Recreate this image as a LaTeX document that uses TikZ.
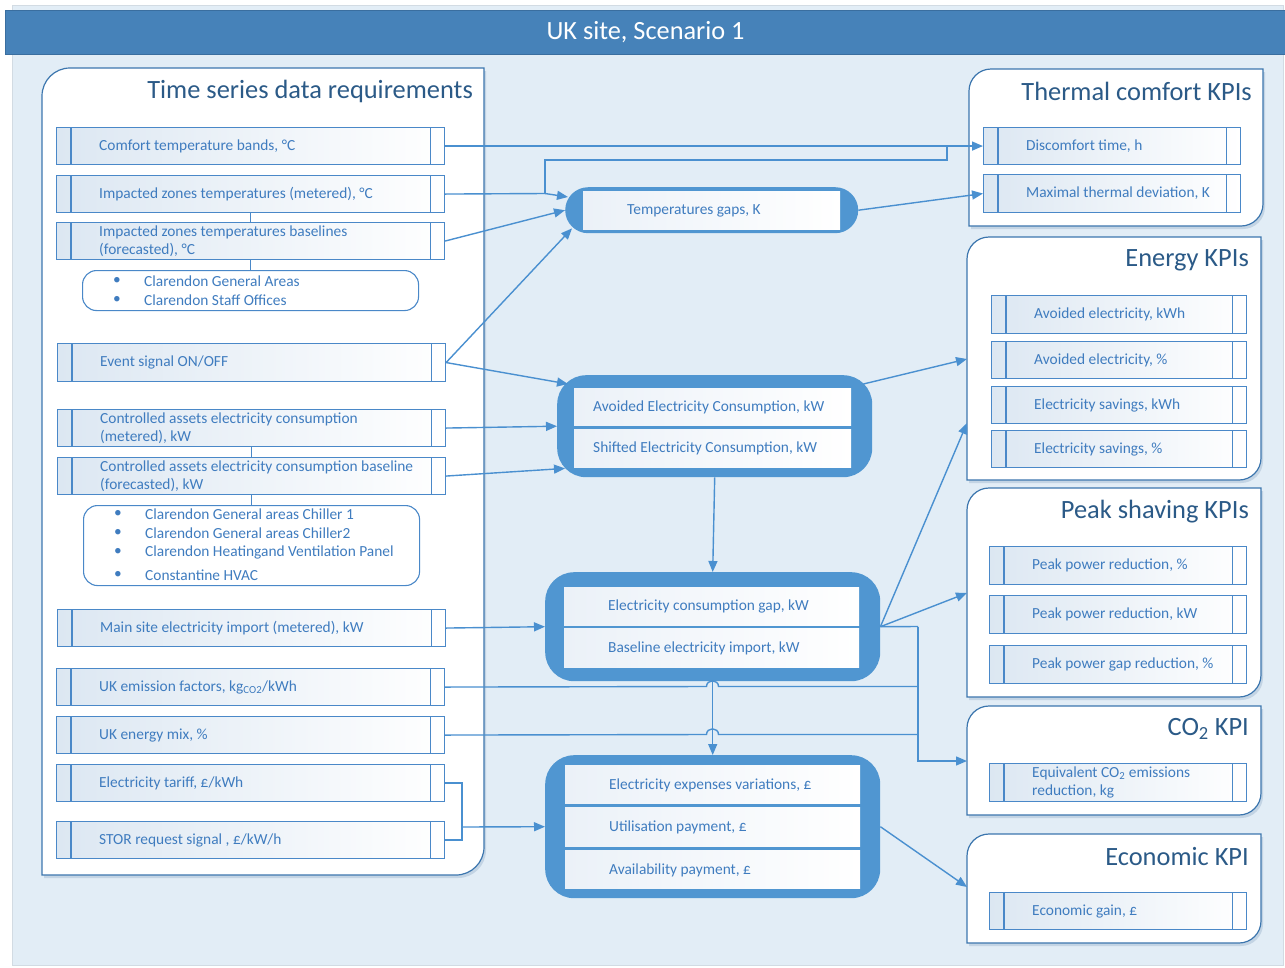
\documentclass[tikz,border=0pt]{standalone}
\usepackage{fontspec}
\setmainfont{Carlito}
\usetikzlibrary{arrows.meta,calc}

\definecolor{hdr}{HTML}{4682B9}
\definecolor{hdrline}{HTML}{3A6E9F}
\definecolor{panel}{HTML}{E2EDF6}
\definecolor{frame}{HTML}{D2DBE3}
\definecolor{boxline}{HTML}{4A88C8}
\definecolor{boxtext}{HTML}{3F7CBF}
\definecolor{ttlc}{HTML}{2B5A87}
\definecolor{thick}{HTML}{5096D1}
\definecolor{wirec}{HTML}{4A90D0}
\definecolor{contline}{HTML}{3C76AE}
\definecolor{shadec}{HTML}{DCE7F2}
\definecolor{innershade}{HTML}{EBF1F8}
\definecolor{shadowc}{HTML}{C3D4E4}

% outline of a group panel: rounded top-left and bottom-right corners
\newcommand\grouppath[5]{(#1,#4) -- (#1,#2+#5) .. controls (#1,#2+0.448*#5) and (#1+0.448*#5,#2) .. (#1+#5,#2) -- (#3,#2) -- (#3,#4-#5) .. controls (#3,#4-0.448*#5) and (#3-0.448*#5,#4) .. (#3-#5,#4) -- cycle}
\newcommand\grouppanel[5]{%
  \fill[shadowc, xshift=2pt, yshift=-3pt] \grouppath{#1}{#2}{#3}{#4}{#5};
  \draw[grp] \grouppath{#1}{#2}{#3}{#4}{#5};
}
% data item: name, x, y, width, height, text
\newcommand\dataitem[6]{%
  \node[dbox, minimum width=#4pt, minimum height=#5pt, anchor=north west] (#1) at (#2,#3) {};
  \draw[dline] ([xshift=15pt]#1.north west) -- ([xshift=15pt]#1.south west)
               ([xshift=-15pt]#1.north east) -- ([xshift=-15pt]#1.south east);
  \node[dtext] (#1t) at ([xshift=43pt]#1.west) {#6};
}
% white row inside a thick box: name, x, y, width, height
\newcommand\rowitem[5]{%
  \node[inr, minimum width=#4pt, minimum height=#5pt, anchor=north west] (#1) at (#2,#3) {};
}

\begin{document}
\begin{tikzpicture}[x=1pt,y=-1pt,
  dbox/.style={draw=boxline, line width=1.1pt, left color=shadec, right color=white, inner sep=0pt, rectangle},
  dline/.style={draw=boxline, line width=1.1pt},
  dtext/.style={text=boxtext, font=\fontsize{15.4}{18.5}\selectfont, inner sep=0pt, align=left, anchor=west},
  inr/.style={left color=innershade, right color=white, inner sep=0pt, rectangle},
  thickbox/.style={fill=thick, rounded corners=29pt, inner sep=0pt, rectangle},
  grp/.style={draw=contline, line width=1.2pt, fill=white},
  ttl/.style={text=ttlc, font=\fontsize{26.4}{30}\selectfont, anchor=east, inner sep=0pt},
  lst/.style={draw=boxline, line width=1.1pt, fill=white, rounded corners=14pt, inner sep=0pt, rectangle},
  wire/.style={draw=wirec, line width=1.4pt},
  arr/.style={wire, -{Triangle[length=11pt,width=9pt]}},
]
\useasboundingbox (0,0) rectangle (1285,967);

% background sheet and header
\draw[frame, fill=panel, line width=1pt] (12,5) rectangle (1283,965);
\node[fill=hdr, draw=hdrline, line width=1pt, minimum width=1280pt, minimum height=44pt,
      anchor=north west, inner sep=0pt, text=white, font=\fontsize{26.3}{30}\selectfont] (hdr) at (5,10) {UK site, Scenario 1};

% ---------------- input group ----------------
\grouppanel{42}{68}{484}{875}{28}
\node[ttl] (inttl) at (473,91.5) {Time series data requirements};

\dataitem{c1}{56}{127}{388}{37}{Comfort temperature bands, °C}
\dataitem{c2}{56}{175}{388}{37}{Impacted zones temperatures (metered), °C}
\dataitem{c3}{56}{222}{388}{37}{Impacted zones temperatures baselines\\(forecasted), °C}
\draw[dline] (c2.south) -- (c3.north);

\node[lst, minimum width=336pt, minimum height=40pt, anchor=north west] (l1) at (82,270) {};
\draw[dline] (c3.south) -- (l1.north);
\foreach \yy/\tx [count=\i] in {281/Clarendon General Areas, 300/Clarendon Staff Offices}{
  \node[dtext, anchor=center] (l1b\i) at (117,\yy) {•};
  \node[dtext] (l1t\i) at (144,\yy) {\tx};
}

\dataitem{c4}{57}{343}{388}{38}{Event signal ON/OFF}
\dataitem{c5}{57}{409}{388}{37}{Controlled assets electricity consumption\\(metered), kW}
\dataitem{c6}{57}{457}{388}{37}{Controlled assets electricity consumption baseline\\(forecasted), kW}
\draw[dline] (c5.south) -- (c6.north);

\node[lst, minimum width=336pt, minimum height=80pt, anchor=north west] (l2) at (83,505) {};
\draw[dline] (c6.south) -- (l2.north);
\foreach \yy/\tx [count=\i] in {514/Clarendon General areas Chiller 1, 533/Clarendon General areas Chiller2, 552/Clarendon Heatingand Ventilation Panel, 575/Constantine HVAC}{
  \node[dtext, anchor=center] (l2b\i) at (118,\yy) {•};
  \node[dtext] (l2t\i) at (145,\yy) {\tx};
}

\dataitem{c7}{57}{609}{388}{37}{Main site electricity import (metered), kW}
\dataitem{c8}{56}{668}{388}{37}{UK emission factors, kg\textsubscript{CO2}/kWh}
\dataitem{c9}{56}{716}{388}{37}{UK energy mix, \%}
\dataitem{c10}{56}{764}{388}{37}{Electricity tariff, £/kWh}
\dataitem{c11}{56}{821}{388}{37}{STOR request signal , £/kW/h}

% ---------------- processing blocks ----------------
\node[thickbox, rounded corners=23pt, minimum width=293pt, minimum height=46pt, anchor=north west] (tg) at (565,187) {};
\rowitem{tgr}{583}{191}{257}{38}
\node[dtext] (tgt) at (627,210.5) {Temperatures gaps, K};

\node[thickbox, minimum width=315pt, minimum height=102pt, anchor=north west] (av) at (557,375) {};
\rowitem{av1}{574}{388}{277}{37}
\node[dtext] (av1t) at (593,407) {Avoided Electricity Consumption, kW};
\rowitem{av2}{574}{429}{277}{38}
\node[dtext] (av2t) at (593,448.5) {Shifted Electricity Consumption, kW};

\node[thickbox, minimum width=335pt, minimum height=109pt, anchor=north west] (gp) at (545,572) {};
\rowitem{gp1}{564}{587}{295}{38}
\node[dtext] (gp1t) at (608,606.5) {Electricity consumption gap, kW};
\rowitem{gp2}{564}{628}{295}{39}
\node[dtext] (gp2t) at (608,648) {Baseline electricity import, kW};

\node[thickbox, minimum width=335pt, minimum height=143pt, anchor=north west] (ex) at (545,755) {};
\rowitem{ex1}{565}{765}{295}{38}
\node[dtext] (ex1t) at (609,785) {Electricity expenses variations, £};
\rowitem{ex2}{565}{807}{295}{39}
\node[dtext] (ex2t) at (609,827) {Utilisation payment, £};
\rowitem{ex3}{565}{850}{295}{38}
\node[dtext] (ex3t) at (609,870) {Availability payment, £};

% ---------------- KPI groups ----------------
\grouppanel{969}{69}{1263}{226}{22}
\node[ttl] (thttl) at (1252,91.5) {Thermal comfort KPIs};
\dataitem{kd}{983}{127}{257}{37}{Discomfort time, h}
\dataitem{km}{983}{174}{257}{38}{Maximal thermal deviation, K}

\grouppanel{967}{237}{1261}{480}{22}
\node[ttl] (enttl) at (1249,260.5) {Energy KPIs};
\dataitem{e1}{991}{295}{255}{38}{Avoided electricity, kWh}
\dataitem{e2}{991}{341}{255}{37}{Avoided electricity, \%}
\dataitem{e3}{991}{386}{255}{37}{Electricity savings, kWh}
\dataitem{e4}{991}{430}{255}{37}{Electricity savings, \%}

\grouppanel{967}{488}{1261}{697}{22}
\node[ttl] (pkttl) at (1249,511.5) {Peak shaving KPIs};
\dataitem{p1}{989}{546}{257}{38}{Peak power reduction, \%}
\dataitem{p2}{989}{595}{257}{38}{Peak power reduction, kW}
\dataitem{p3}{989}{645}{257}{38}{Peak power gap reduction, \%}

\grouppanel{967}{706}{1261}{815}{22}
\node[ttl] (cottl) at (1249,729) {CO\textsubscript{2} KPI};
\dataitem{q1}{989}{763}{257}{38}{Equivalent CO\textsubscript{2} emissions\\reduction, kg}

\grouppanel{967}{834}{1261}{943}{22}
\node[ttl] (ecttl) at (1249,856.5) {Economic KPI};
\dataitem{g1}{989}{892}{257}{37}{Economic gain, £}

% entry points on the KPI group borders
\coordinate (enA) at (967,359);
\coordinate (enB) at (967,423);
\coordinate (pkA) at (967,593);
\coordinate (coA) at (967,761);
\coordinate (ecA) at (967,887);

% ---------------- connectors ----------------
\draw[arr] (c1.east) -- (kd.west);
\coordinate (j1) at (545,193.5);
\coordinate (jc) at (947,145.5);
\draw[wire] (c2.east) -- (j1);
\draw[arr] (j1) -- ($(tg.north west)+(3,10)$);
\draw[wire] (j1) |- ($(jc)+(0,14.5)$) -- (jc);
\draw[arr] (c3.east) -- (tg.west);
\draw[arr] (c4.east) -- ($(tg.south west)+(7,-5)$);
\draw[arr] (c4.east) -- ($(av.north west)+(11,9)$);
\draw[arr] (tg.east) -- (km.west);

\draw[arr] (c5.east) -- (av.west);
\draw[arr] (c6.east) -- ($(av.south west)+(8,-9)$);
\draw[arr] ($(av.north east)+(-9,9)$) -- (enA);
\draw[arr] (av.south) -- (gp.north);

\draw[arr] (c7.east) -- (gp.west);
\draw[arr] (gp.east) -- (enB);
\draw[arr] (gp.east) -- (pkA);
\coordinate (jv) at (918,626.5);
\draw[wire] (gp.east) -- (jv);
\draw[arr] (jv) |- (coA);

% emission factors and energy mix hop over the vertical link
\draw[wire] (c8.east) -- (706.5,686.5) .. controls (706.5,679) and (718.5,679) .. (718.5,686.5) -- (918,686.5);
\draw[wire] (c9.east) -- (706.5,734.5) .. controls (706.5,727) and (718.5,727) .. (718.5,734.5) -- (918,734.5);
\draw[arr] (gp.south) -- (ex.north);

\coordinate (br) at (462,827);
\draw[wire] (c10.east) -| (br) |- (c11.east);
\draw[arr] (br) -- (ex.west);
\draw[arr] (ex.east) -- (ecA);

\end{tikzpicture}
\end{document}
